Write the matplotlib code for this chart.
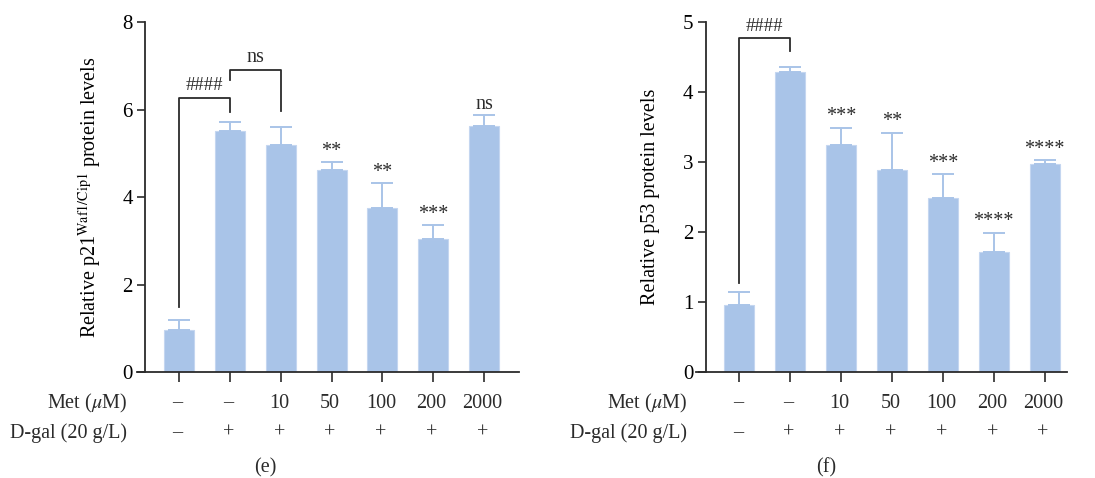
import numpy as np
import matplotlib
matplotlib.use("Agg")
import matplotlib.pyplot as plt

plt.rcParams['font.family'] = ['Liberation Serif', 'DejaVu Serif']
plt.rcParams['mathtext.fontset'] = 'stix'

met_labels = ['–', '–', '10', '50', '100', '200', '2000']
dgal_labels = ['–', '+', '+', '+', '+', '+', '+']

p21_mean = [0.97, 5.51, 5.20, 4.62, 3.76, 3.05, 5.63]
p21_sd = [0.22, 0.21, 0.41, 0.18, 0.56, 0.30, 0.24]
p21_marks = ['', '', '', '**', '**', '***', 'ns']

p53_mean = [0.96, 4.29, 3.25, 2.89, 2.49, 1.72, 2.97]
p53_sd = [0.18, 0.07, 0.24, 0.53, 0.34, 0.27, 0.06]
p53_marks = ['', '', '***', '**', '***', '****', '****']

BAR = '#a9c4e8'
INK = '#2b2b2b'
W, H = 1095, 478
FS = 14.5


def panel(fig, x0, x1, ytop, ymax, yticks, xmin, yspine, xmax):
    ax = fig.add_axes([x0 / W, 1 - 372 / H, (x1 - x0) / W, (372 - ytop) / H])
    ax.set_xlim(xmin, xmax)
    ax.set_ylim(0, ymax)
    ax.spines['top'].set_visible(False)
    ax.spines['right'].set_visible(False)
    ax.spines['left'].set_position(('data', yspine))
    for s in ('left', 'bottom'):
        ax.spines[s].set_color(INK)
        ax.spines[s].set_linewidth(1.3)
    ax.set_yticks(yticks)
    ax.set_xticks(range(7))
    ax.set_xticklabels([])
    ax.tick_params(axis='y', length=6, width=1.2, color=INK, labelsize=15, pad=3)
    ax.tick_params(axis='x', length=7, width=1.2, color=INK)
    return ax


def draw_bars(ax, mean, sd, marks):
    x = np.arange(len(mean))
    ax.bar(x, mean, width=0.59, color=BAR, edgecolor='#c4d6f0', linewidth=0.8,
           yerr=[np.zeros(len(sd)), sd], capsize=8,
           error_kw=dict(ecolor=BAR, elinewidth=1.4, capthick=1.4), zorder=2)
    for xi, m, s, t in zip(x, mean, sd, marks):
        if t:
            ax.annotate(t, (xi, m + s), xytext=(0, 1), textcoords='offset points',
                        ha='center', va='bottom', fontsize=FS,
                        color=INK)


fig = plt.figure(figsize=(W / 100, H / 100), dpi=100)

# panel (e): p21
ax1 = panel(fig, 137, 519, 22, 8, [0, 2, 4, 6, 8], -0.83, -0.67, 6.69)
draw_bars(ax1, p21_mean, p21_sd, p21_marks)
ax1.set_ylabel(r'Relative p21$^{\mathrm{Waf1/Cip1}}$ protein levels', fontsize=FS,
               labelpad=14)
ax1.plot([0, 0, 1, 1], [1.49, 6.26, 6.26, 5.94], color=INK, lw=1.3, clip_on=False)
ax1.plot([1, 1, 2, 2], [6.67, 6.91, 6.91, 5.97], color=INK, lw=1.3, clip_on=False)
ax1.text(0.5, 6.36, '####', ha='center', va='bottom', fontsize=FS - 1, color=INK)
ax1.text(1.5, 6.98, 'ns', ha='center', va='bottom', fontsize=FS, color=INK)

# panel (f): p53
ax2 = panel(fig, 696, 1067, 22, 5, [0, 1, 2, 3, 4, 5], -0.85, -0.66, 6.44)
draw_bars(ax2, p53_mean, p53_sd, p53_marks)
ax2.set_ylabel('Relative p53 protein levels', fontsize=FS, labelpad=16)
ax2.plot([0, 0, 1, 1], [1.27, 4.77, 4.77, 4.58], color=INK, lw=1.3, clip_on=False)
ax2.text(0.5, 4.81, '####', ha='center', va='bottom', fontsize=FS - 1, color=INK)

# treatment rows under each x axis
for ax, tag in ((ax1, '(e)'), (ax2, '(f)')):
    for i, (m, d) in enumerate(zip(met_labels, dgal_labels)):
        ax.annotate(m, (i, 0), xycoords=('data', 'figure pixels'),
                    xytext=(i - 0.03, H - 403), textcoords=('data', 'figure pixels'),
                    ha='center', va='center', fontsize=FS, color=INK)
        ax.annotate(d, (i, 0), xycoords=('data', 'figure pixels'),
                    xytext=(i - 0.03, H - 433), textcoords=('data', 'figure pixels'),
                    ha='center', va='center', fontsize=FS, color=INK)
    ax.annotate(r'Met ($\mu$M)', (-1.02, H - 403), xycoords=('data', 'figure pixels'),
                ha='right', va='center', fontsize=FS, color=INK, annotation_clip=False)
    ax.annotate('D-gal (20 g/L)', (-1.02, H - 433), xycoords=('data', 'figure pixels'),
                ha='right', va='center', fontsize=FS, color=INK, annotation_clip=False)
    ax.annotate(tag, (1.7, H - 468), xycoords=('data', 'figure pixels'),
                ha='center', va='center', fontsize=FS, color=INK, annotation_clip=False)

fig.savefig('out.png', dpi=100)
